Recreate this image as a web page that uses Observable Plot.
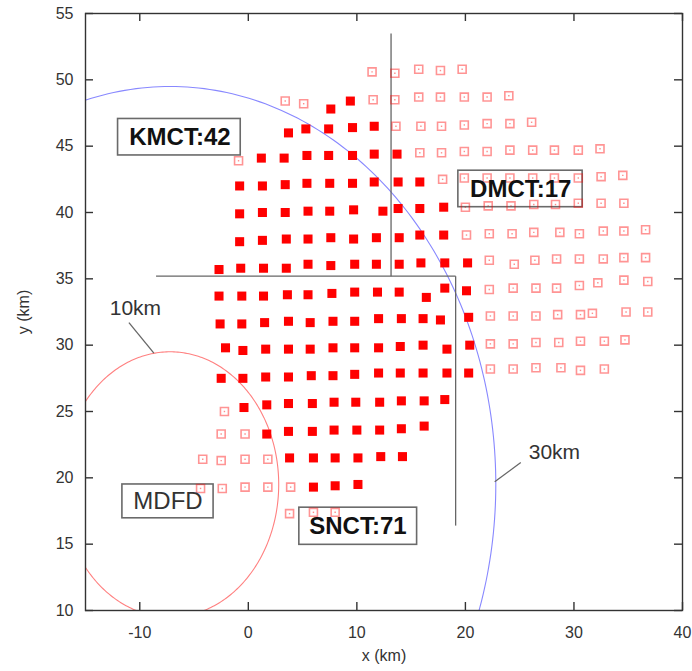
<!DOCTYPE html>
<html>
<head>
<meta charset="utf-8">
<script src="https://cdn.jsdelivr.net/npm/d3@7"></script>
<script src="https://cdn.jsdelivr.net/npm/@observablehq/plot@0.6"></script>
<style>
  html, body { margin: 0; padding: 0; background: #fff; }
  #chart { width: 692px; height: 671px; }
</style>
</head>
<body>
<div id="chart"></div>
<script>
// ---- data (km) ----
const xTicks = [-10, 0, 10, 20, 30, 40];
const yTicks = [10, 15, 20, 25, 30, 35, 40, 45, 50, 55];

// filled squares: KMCT region
const kmctPts = [
  [7.6,47.8],[9.4,48.4],
  [3.7,46.0],[5.3,46.3],[7.4,46.3],[9.6,46.4],[11.6,46.5],
  [1.2,44.1],[3.3,44.1],[5.4,44.3],[7.4,44.3],[9.6,44.3],[11.6,44.4],
  [-0.8,42.0],[1.3,42.0],[3.4,42.1],[5.4,42.2],[7.5,42.2],[9.6,42.2],[11.6,42.3],
  [-0.8,39.9],[1.3,40.0],[3.4,40.0],[5.5,40.1],[7.5,40.1],[9.7,40.2],[12.4,40.1],
  [-0.8,37.8],[1.3,37.9],[3.5,38.0],[5.5,38.0],[7.6,38.1],[9.7,38.0],[11.8,38.1],
  [-2.7,35.7],[-0.7,35.8],[1.4,35.8],[3.5,35.8],[5.5,36.1],[7.6,36.0],[9.8,36.1],[11.8,36.1]
];
// filled squares: DMCT region
const dmctPts = [
  [13.7,44.4],
  [13.8,42.3],[15.8,42.3],
  [13.8,40.3],[15.8,40.3],[18.0,40.4],
  [13.9,38.1],[15.8,38.3],[18.0,38.3],
  [13.9,36.1],[15.9,36.2],[18.1,36.2],[20.2,36.2],
  [20.1,34.1],[20.3,32.1],[20.4,30.0],[20.3,27.9]
];
// filled squares: SNCT region
const snctPts = [
  [-2.7,33.7],[-0.6,33.7],[1.4,33.7],[3.6,33.8],[5.5,33.8],[7.7,33.9],[9.8,34.0],[11.9,34.0],[13.9,34.0],[16.4,33.6],[18.1,34.3],
  [-2.6,31.6],[-0.6,31.6],[1.5,31.7],[3.7,31.8],[5.7,31.7],[7.8,31.8],[9.8,31.8],[12.0,32.0],[14.1,32.0],[16.1,32.0],[17.7,31.9],
  [-2.1,29.8],[-0.5,29.6],[1.6,29.7],[3.7,29.7],[5.7,29.7],[7.8,29.8],[9.8,29.8],[12.0,29.8],[14.0,29.9],[16.1,30.0],[18.3,29.7],
  [-2.5,27.5],[-0.5,27.5],[1.6,27.6],[3.7,27.6],[5.8,27.7],[7.8,27.7],[9.8,27.8],[12.0,27.9],[14.0,27.9],[16.1,27.9],[18.3,27.9],
  [-0.4,25.3],[1.7,25.5],[3.7,25.6],[5.9,25.6],[7.9,25.7],[9.9,25.7],[12.1,25.7],[14.1,25.8],[16.2,25.8],[18.1,25.9],
  [1.7,23.3],[3.7,23.5],[5.9,23.5],[7.9,23.6],[10.0,23.6],[12.1,23.6],[14.1,23.7],[16.2,23.9],
  [3.8,21.5],[6.0,21.5],[8.0,21.5],[10.1,21.5],[12.2,21.6],[14.2,21.6],
  [6.0,19.3],[8.0,19.4],[10.1,19.5]
];
// open squares (not counted)
const openPts = [
  [11.4,50.6],[13.5,50.5],[15.7,50.8],[17.7,50.7],[19.7,50.8],
  [3.4,48.4],[5.1,48.2],[11.5,48.5],[13.5,48.5],[15.7,48.7],[17.7,48.7],[19.9,48.7],[22.0,48.7],[24.0,48.8],
  [13.6,46.5],[15.9,46.5],[17.8,46.5],[19.9,46.6],[22.0,46.7],[24.1,46.7],[26.1,46.8],
  [-0.9,43.9],[15.8,44.5],[17.8,44.5],[19.9,44.6],[22.0,44.6],[24.1,44.7],[26.2,44.7],[28.2,44.7],[30.4,44.7],[32.4,44.8],
  [17.9,42.5],[19.9,42.6],[22.0,42.6],[24.1,42.6],[26.2,42.6],[28.2,42.6],[30.4,42.6],[32.5,42.7],[34.5,42.8],
  [20.0,40.4],[22.1,40.5],[24.2,40.5],[26.3,40.6],[28.3,40.6],[30.4,40.7],[32.5,40.7],[34.6,40.7],
  [20.1,38.3],[22.2,38.4],[24.3,38.4],[26.3,38.5],[28.7,38.5],[30.5,38.4],[32.7,38.6],[34.6,38.6],[36.6,38.7],
  [22.2,36.4],[24.5,36.1],[26.4,36.4],[28.4,36.5],[30.5,36.5],[32.7,36.5],[34.6,36.6],[36.6,36.6],
  [22.2,34.2],[24.4,34.3],[26.5,34.3],[28.4,34.3],[30.5,34.5],[32.2,34.7],[34.6,34.9],[36.8,34.8],
  [22.3,32.2],[24.4,32.2],[26.5,32.2],[28.5,32.3],[30.6,32.3],[31.7,32.4],[34.8,32.5],[36.8,32.5],
  [22.3,30.1],[24.4,30.1],[26.5,30.2],[28.6,30.2],[30.6,30.3],[32.8,30.3],[34.7,30.4],
  [22.3,28.2],[24.4,28.2],[26.5,28.3],[28.8,28.3],[30.6,28.1],[32.8,28.2],
  [-2.2,25.0],
  [-2.5,23.3],[-0.3,23.3],
  [-4.2,21.4],[-2.5,21.3],[-0.3,21.4],[1.8,21.4],
  [-4.4,19.2],[-2.4,19.2],[-0.3,19.3],[1.8,19.3],[3.9,19.3],
  [3.8,17.3],[6.0,17.4],[8.0,17.4]
];

// range circles around MDFD
const circleCenter = [-7.2, 19.5];
const circleRadii = [10, 30];
const circleNames = ["10km", "30km"];

// region divider segments
const dividers = [
  [[13.15, 53.5], [13.15, 35.2]],
  [[-8.5, 35.2], [19.1, 35.2]],
  [[19.1, 35.2], [19.1, 16.4]]
];

// boxed station labels
const boxNames  = ["KMCT:42", "DMCT:17", "MDFD", "SNCT:71"];
const boxBold   = [true, true, false, true];
const boxCenter = [[-6.3, 45.7], [25.1, 41.75], [-7.4, 18.2], [10.1, 16.35]];
const boxExtent = [[-12.0, 47.05, -0.7, 44.3], [19.35, 43.15, 30.8, 40.4], [-11.6, 19.5, -3.2, 16.95], [4.7, 17.75, 15.55, 14.95]];

// circle annotations
const ringLabelPos = [[-10.4, 32.8], [28.2, 21.9]];
const ringLeaders = [[[-11.0, 31.7], [-8.7, 29.4]], [[25.1, 21.15], [22.7, 19.7]]];

// ---- build ----
const W = 692, H = 671;
const mT = 13, mB = 61, mL = 85, mR = 10;
const plotW = W - mL - mR, plotH = H - mT - mB;
const FONT = "'Liberation Sans', Arial, sans-serif";

const toObj = p => ({x: p[0], y: p[1]});
const ringPts = circleRadii.map((r, i) =>
  d3.range(0, 361, 1).map(a => ({
    x: circleCenter[0] + r * Math.cos(a * Math.PI / 180),
    y: circleCenter[1] + r * Math.sin(a * Math.PI / 180),
    ring: circleNames[i]
  })));
const segData = dividers.map(s => ({x1: s[0][0], y1: s[0][1], x2: s[1][0], y2: s[1][1]}));
const leaderData = ringLeaders.map(s => ({x1: s[0][0], y1: s[0][1], x2: s[1][0], y2: s[1][1]}));
const boxes = boxNames.map((t, i) => ({
  text: t, bold: boxBold[i], cx: boxCenter[i][0], cy: boxCenter[i][1],
  x1: boxExtent[i][0], y1: boxExtent[i][1], x2: boxExtent[i][2], y2: boxExtent[i][3]
}));
const ringLabels = circleNames.map((t, i) => ({text: t, x: ringLabelPos[i][0], y: ringLabelPos[i][1]}));
const tickLen = 8;
const fmt = d => String(d);

const chart = Plot.plot({
  width: W, height: H,
  marginTop: mT, marginBottom: mB, marginLeft: mL, marginRight: mR,
  style: {fontFamily: FONT, fontSize: "16px", color: "#333", background: "#fff"},
  x: {domain: [-15, 40]},
  y: {domain: [10, 55]},
  marks: [
    // range circles
    Plot.line(ringPts[0], {x: "x", y: "y", stroke: "#ff8080", strokeWidth: 1.1, clip: true}),
    Plot.line(ringPts[1], {x: "x", y: "y", stroke: "#8888ff", strokeWidth: 1.1, clip: true}),
    // dividers
    Plot.link(segData, {x1: "x1", y1: "y1", x2: "x2", y2: "y2", stroke: "#666", strokeWidth: 1.3}),
    // leaders
    Plot.link(leaderData, {x1: "x1", y1: "y1", x2: "x2", y2: "y2", stroke: "#666", strokeWidth: 1.3}),
    // label boxes
    Plot.rect(boxes, {x1: "x1", x2: "x2", y1: "y1", y2: "y2", fill: "#fff", stroke: "#6a6a6a", strokeWidth: 1.6}),
    // open squares
    Plot.dot(openPts.map(toObj), {x: "x", y: "y", symbol: "square", r: 4.5, fill: "none", stroke: "#ff0000", strokeOpacity: 0.42, strokeWidth: 1.6}),
    Plot.dot(openPts.map(toObj), {x: "x", y: "y", symbol: "square", r: 0.8, fill: "#ff0000", fillOpacity: 0.45, stroke: "none"}),
    // filled squares
    Plot.dot([...kmctPts, ...dmctPts, ...snctPts].map(toObj), {x: "x", y: "y", symbol: "square", r: 5.1, fill: "#ff0000", stroke: "none"}),
    // box texts
    Plot.text(boxes.filter(d => d.bold), {x: "cx", y: "cy", text: "text", fontSize: 24, fontWeight: "bold", fill: "#111"}),
    Plot.text(boxes.filter(d => !d.bold), {x: "cx", y: "cy", text: "text", fontSize: 24, fill: "#333"}),
    // ring labels
    Plot.text(ringLabels, {x: "x", y: "y", text: "text", fontSize: 21, fill: "#333"}),
    // frame
    Plot.frame({stroke: "#333", strokeWidth: 1.4}),
    // inward ticks on all four sides
    Plot.tickX(xTicks, {x: d => d, stroke: "#333", strokeWidth: 1.4, insetTop: plotH - tickLen}),
    Plot.tickX(xTicks, {x: d => d, stroke: "#333", strokeWidth: 1.4, insetBottom: plotH - tickLen}),
    Plot.tickY(yTicks, {y: d => d, stroke: "#333", strokeWidth: 1.4, insetRight: plotW - tickLen}),
    Plot.tickY(yTicks, {y: d => d, stroke: "#333", strokeWidth: 1.4, insetLeft: plotW - tickLen}),
    // axes labels
    Plot.axisX({ticks: xTicks, tickFormat: fmt, tickSize: 0, tickPadding: 16, fontSize: 16, label: "x (km)", labelAnchor: "center", labelArrow: "none", labelOffset: 50}),
    Plot.axisY({ticks: yTicks, tickFormat: fmt, tickSize: 0, tickPadding: 12, fontSize: 16, label: "y (km)", labelAnchor: "center", labelArrow: "none", labelOffset: 68})
  ]
});
document.getElementById("chart").appendChild(chart);
</script>
</body>
</html>
